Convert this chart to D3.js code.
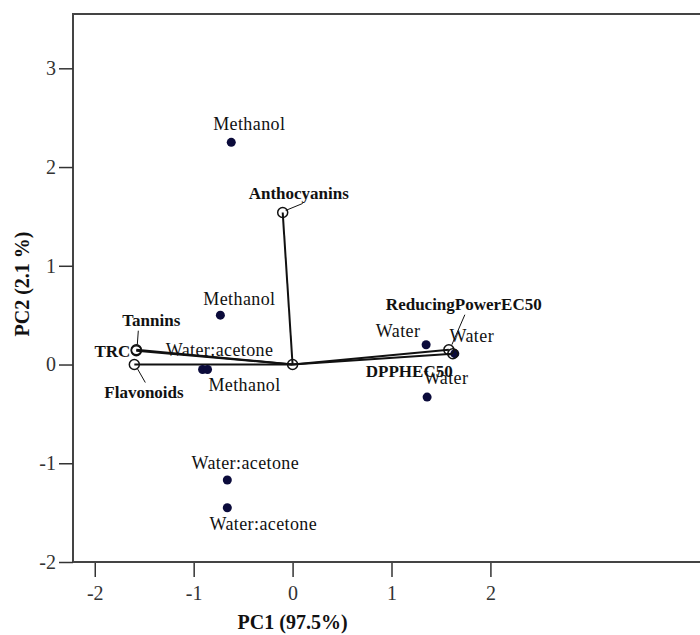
<!DOCTYPE html>
<html>
<head>
<meta charset="utf-8">
<script src="https://cdn.jsdelivr.net/npm/d3@7"></script>
<style>
  body { margin: 0; background: #fff; }
  svg { display: block; font-family: 'Liberation Serif', 'Times New Roman', serif; }
  .tick text { font-family: 'Liberation Serif', 'Times New Roman', serif; font-size: 20px; fill: #333; }
  .tick line { stroke: #333; stroke-width: 1.5; }
  .obs-label { font-size: 18px; fill: #111; letter-spacing: 0.4px; }
  .var-label { font-size: 17px; font-weight: bold; fill: #111; }
  .axis-title { font-size: 20px; font-weight: bold; fill: #111; }
</style>
</head>
<body>
<svg width="700" height="635"></svg>
<script>
  // observations (scores)
  const obsNames = ['Methanol', 'Methanol', 'Water:acetone', 'Methanol', 'Water:acetone',
    'Water:acetone', 'Water', 'Water', 'Water'];
  const obsPC1 = [-0.62, -0.73, -0.91, -0.86, -0.66, -0.66, 1.35, 1.64, 1.36];
  const obsPC2 = [2.25, 0.50, -0.05, -0.05, -1.17, -1.45, 0.20, 0.11, -0.33];

  // variables (loadings)
  const varNames = ['Anthocyanins', 'Tannins', 'TRC', 'Flavonoids', 'ReducingPowerEC50', 'DPPHEC50'];
  const varPC1 = [-0.10, -1.58, -1.58, -1.60, 1.58, 1.62];
  const varPC2 = [1.54, 0.15, 0.14, 0.00, 0.15, 0.11];

  const xTicks = [-2, -1, 0, 1, 2];
  const yTicks = [-2, -1, 0, 1, 2, 3];

  // label placement (pixels, relative to the mark)
  const obsLabelPos = [
    [18, -12], [19, -10], [17, -13], [37, 22], [18, -11],
    [36, 22], [-28, -8], [17, -12], [19, -13]
  ];
  const varLabelPos = [
    { dx: -34, dy: -13, anchor: 'start', leader: [3, -2, 20, -9] },
    { dx: -14, dy: -24, anchor: 'start', leader: [1, -5, 2, -19] },
    { dx: -6, dy: 6, anchor: 'end', leader: null },
    { dx: -30, dy: 33, anchor: 'start', leader: [3, 4, 11, 18] },
    { dx: -63, dy: -40, anchor: 'start', leader: [3, -5, 16, -35] },
    { dx: -87, dy: 23, anchor: 'start', leader: null }
  ];

  const svg = d3.select('svg');

  const xScale = d3.scaleLinear().domain([-2.22, 4.22]).range([73, 710]);
  const yScale = d3.scaleLinear().domain([-2, 3.55]).range([562, 14]);

  const obs = obsNames.map((name, i) => ({ name, x: obsPC1[i], y: obsPC2[i], pos: obsLabelPos[i] }));
  const vars = varNames.map((name, i) => ({ name, x: varPC1[i], y: varPC2[i], pos: varLabelPos[i] }));

  // frame
  svg.append('path')
    .attr('d', `M710,${yScale(3.55)}H${xScale(-2.22)}V${yScale(-2)}H710`)
    .attr('fill', 'none')
    .attr('stroke', '#444')
    .attr('stroke-width', 2);

  const xAxis = d3.axisBottom(xScale)
    .tickValues(xTicks)
    .tickFormat(d => String(d))
    .tickSize(14)
    .tickPadding(9);

  const yAxis = d3.axisLeft(yScale)
    .tickValues(yTicks)
    .tickFormat(d => String(d))
    .tickSize(14)
    .tickPadding(3);

  svg.append('g')
    .attr('transform', `translate(0,${yScale(-2) + 1})`)
    .call(xAxis)
    .call(g => g.select('.domain').remove());

  svg.append('g')
    .attr('transform', `translate(${xScale(-2.22)},0)`)
    .call(yAxis)
    .call(g => g.select('.domain').remove());

  svg.append('text')
    .attr('class', 'axis-title')
    .attr('x', xScale(0))
    .attr('y', 629)
    .attr('text-anchor', 'middle')
    .text('PC1 (97.5%)');

  svg.append('text')
    .attr('class', 'axis-title')
    .attr('transform', `translate(29,${(yScale(-2) + yScale(3.55)) / 2 - 4}) rotate(-90)`)
    .attr('text-anchor', 'middle')
    .text('PC2 (2.1 %)');

  // loading vectors
  const x0 = xScale(0);
  const y0 = yScale(0);

  svg.selectAll('.vector').data(vars)
    .enter().append('line')
      .attr('class', 'vector')
      .attr('x1', x0)
      .attr('y1', y0)
      .attr('x2', d => xScale(d.x))
      .attr('y2', d => yScale(d.y))
      .attr('stroke', '#111')
      .attr('stroke-width', 2);

  // observation points
  svg.selectAll('.obs').data(obs)
    .enter().append('circle')
      .attr('class', 'obs')
      .attr('cx', d => xScale(d.x))
      .attr('cy', d => yScale(d.y))
      .attr('r', 4.5)
      .attr('fill', '#0b0b3b');

  svg.selectAll('.obs-label').data(obs)
    .enter().append('text')
      .attr('class', 'obs-label')
      .attr('x', d => xScale(d.x) + d.pos[0])
      .attr('y', d => yScale(d.y) + d.pos[1])
      .attr('text-anchor', 'middle')
      .text(d => d.name);

  // vector end markers
  svg.append('circle')
    .attr('cx', x0)
    .attr('cy', y0)
    .attr('r', 5)
    .attr('fill', 'none')
    .attr('stroke', '#111')
    .attr('stroke-width', 1.5);

  svg.selectAll('.var-end').data(vars)
    .enter().append('circle')
      .attr('class', 'var-end')
      .attr('cx', d => xScale(d.x))
      .attr('cy', d => yScale(d.y))
      .attr('r', 5)
      .attr('fill', 'none')
      .attr('stroke', '#111')
      .attr('stroke-width', 1.5);

  svg.selectAll('.leader').data(vars.filter(d => d.pos.leader))
    .enter().append('line')
      .attr('class', 'leader')
      .attr('x1', d => xScale(d.x) + d.pos.leader[0])
      .attr('y1', d => yScale(d.y) + d.pos.leader[1])
      .attr('x2', d => xScale(d.x) + d.pos.leader[2])
      .attr('y2', d => yScale(d.y) + d.pos.leader[3])
      .attr('stroke', '#111')
      .attr('stroke-width', 1);

  svg.selectAll('.var-label').data(vars)
    .enter().append('text')
      .attr('class', 'var-label')
      .attr('x', d => xScale(d.x) + d.pos.dx)
      .attr('y', d => yScale(d.y) + d.pos.dy)
      .attr('text-anchor', d => d.pos.anchor)
      .text(d => d.name);
</script>
</body>
</html>
